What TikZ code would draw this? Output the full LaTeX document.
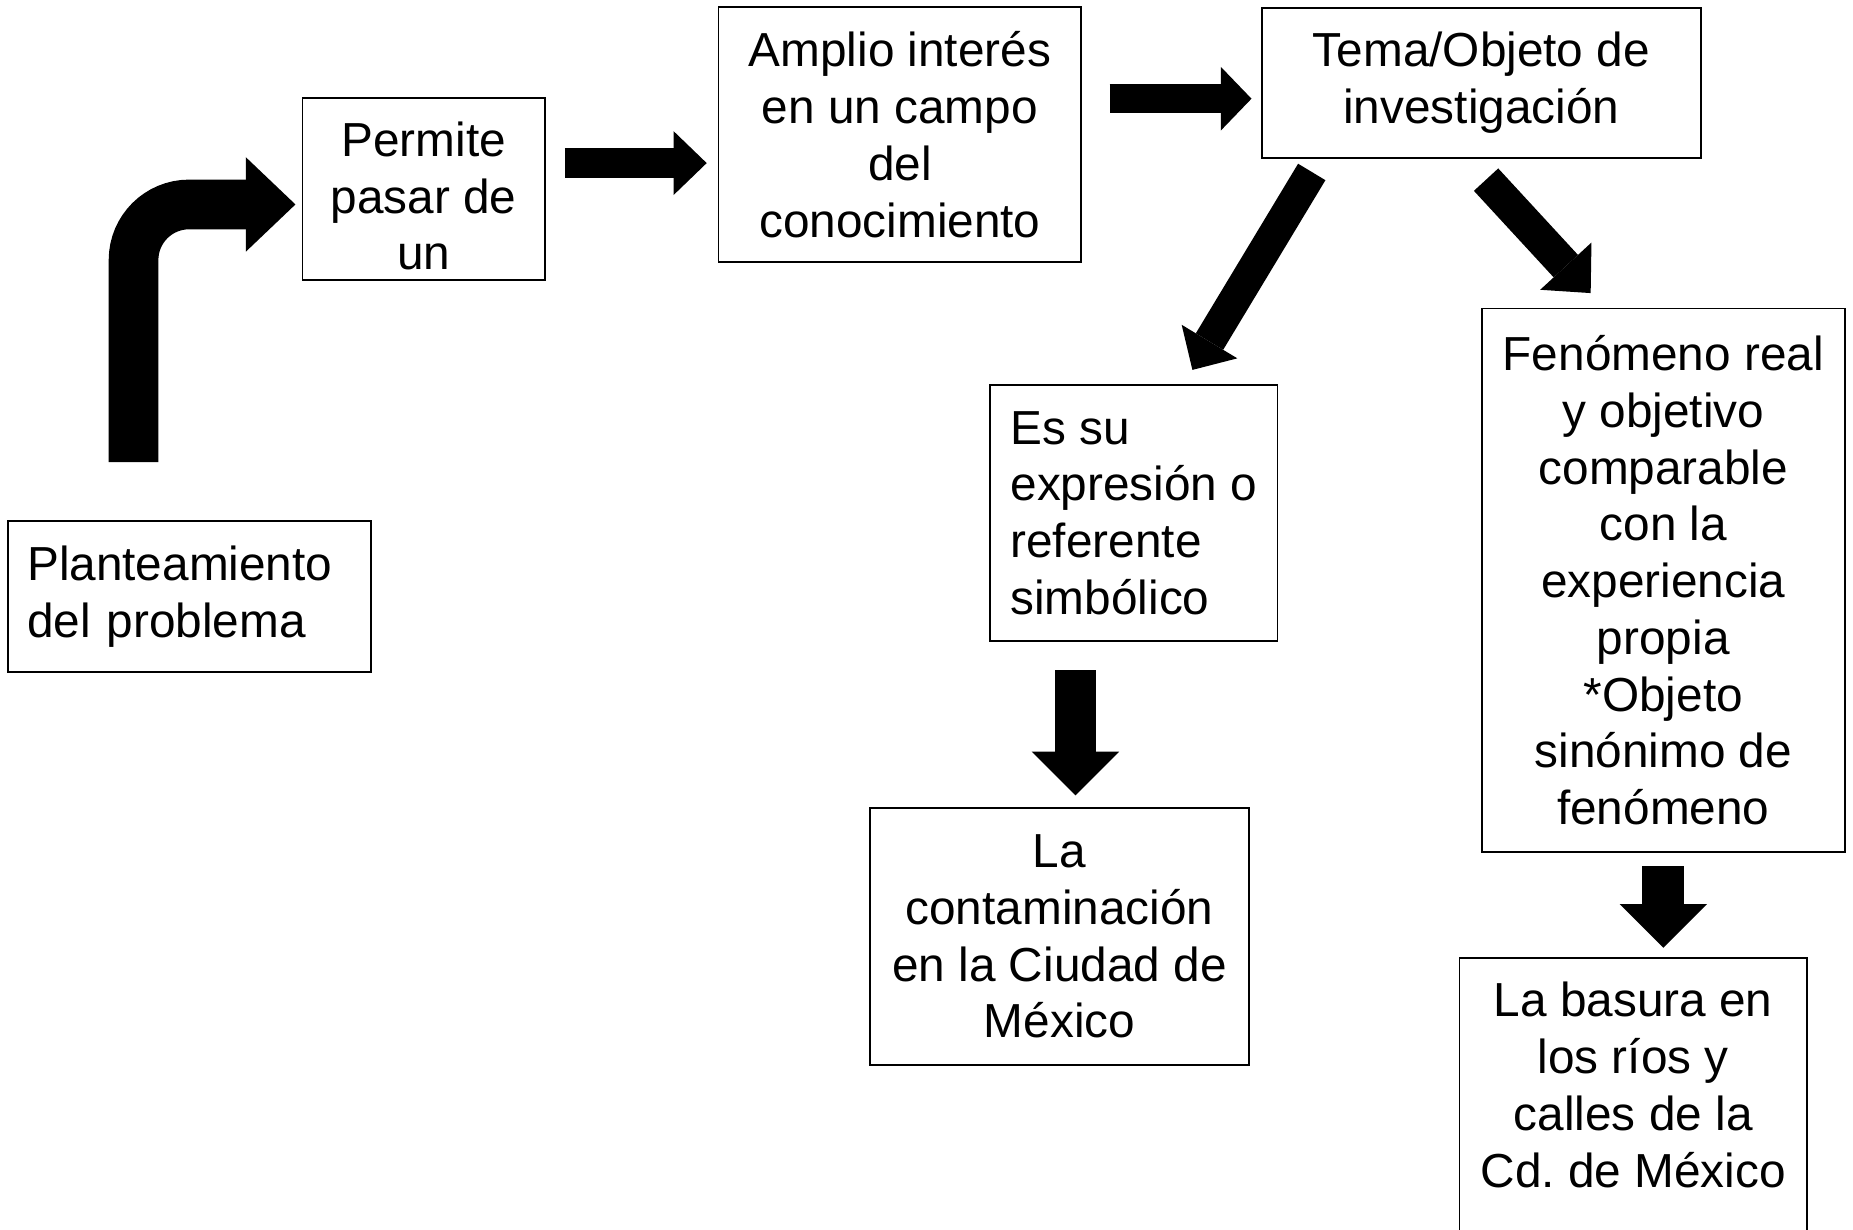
\documentclass[tikz,border=0pt]{standalone}
\usepackage{fontspec}
\setmainfont{Liberation Sans}
\usetikzlibrary{arrows.meta}
\begin{document}
\frenchspacing
\begin{tikzpicture}[x=0.5pt,y=-0.5pt,
  box/.style={draw, line width=0.8pt, font=\fontsize{20.2}{24}\selectfont, inner sep=0pt},
  cbox/.style={box, align=center},
  lbox/.style={box, align=left},
  txt/.style={font=\fontsize{20.2}{24}\selectfont, inner sep=0pt, align=center}]
\useasboundingbox (0,0) rectangle (1568,1040);

% boxes
\node[box, align=left, text width=137.5pt, inner xsep=8pt, minimum height=64pt] (plan) at (160.5,505) {Planteamiento\\del problema};
\node[box, minimum width=102.5pt, minimum height=77pt] (perm) at (358.5,160) {};
\node[txt] (permt) at (358.5,166) {Permite\\pasar de\\un};
\node[cbox, minimum width=153.5pt, minimum height=108pt] (ampl) at (761.5,114) {Amplio interés\\en un campo\\del\\conocimiento};
\node[cbox, minimum width=185.5pt, minimum height=63.5pt] (tema) at (1253.5,70) {Tema/Objeto de\\investigación};
\node[lbox, minimum width=121.5pt, minimum height=108.5pt] (essu) at (959.5,434) {Es su\\expresión o\\referente\\simbólico};
\node[cbox, minimum width=160.5pt, minimum height=109pt] (cont) at (896.5,792.5) {La\\contaminación\\en la Ciudad de\\México};
\node[cbox, minimum width=153.5pt, minimum height=230pt] (fen) at (1407.5,491) {Fenómeno real\\y objetivo\\comparable\\con la\\experiencia\\propia\\*Objeto\\sinónimo de\\fenómeno};
\node[txt] (bas) at (1382,918) {La basura en\\los ríos y\\calles de la\\Cd. de México};
\draw[line width=0.8pt] (1235,811) rectangle (1529,1070);

% arrow coordinates
\coordinate (c0) at (113,391);
\coordinate (c1) at (113,173);
\coordinate (c2) at (250,173);
\coordinate (a1s) at (478,138);
\coordinate (a1e) at (598,138);
\coordinate (a2s) at (939,83.5);
\coordinate (a2e) at (1059,83.5);
\coordinate (a3s) at (1110,145.5);
\coordinate (a3e) at (1009,313);
\coordinate (a4s) at (1257.5,152);
\coordinate (a4e) at (1346,248);
\coordinate (a5s) at (910,567);
\coordinate (a5e) at (910,673);
\coordinate (a6s) at (1407.5,733);
\coordinate (a6e) at (1407.5,802);

% block arrows
\draw[line width=21pt, rounded corners=23.5pt, -{Triangle[width=40pt,length=21pt,line width=0pt]}] (c0) -- (c1) -- (c2);
\draw[line width=13pt, -{Triangle[width=27pt,length=14pt,line width=0pt]}] (a1s) -- (a1e);
\draw[line width=12.5pt, -{Triangle[width=27pt,length=13pt,line width=0pt]}] (a2s) -- (a2e);
\draw[line width=13.5pt, -{Triangle[width=27.5pt,length=14pt,line width=0pt]}] (a3s) -- (a3e);
\draw[line width=14pt, -{Triangle[width=29.5pt,length=15.5pt,line width=0pt]}] (a4s) -- (a4e);
\draw[line width=17.5pt, -{Triangle[width=37pt,length=18.5pt,line width=0pt]}] (a5s) -- (a5e);
\draw[line width=17.75pt, -{Triangle[width=37pt,length=18.5pt,line width=0pt]}] (a6s) -- (a6e);
\end{tikzpicture}
\end{document}
